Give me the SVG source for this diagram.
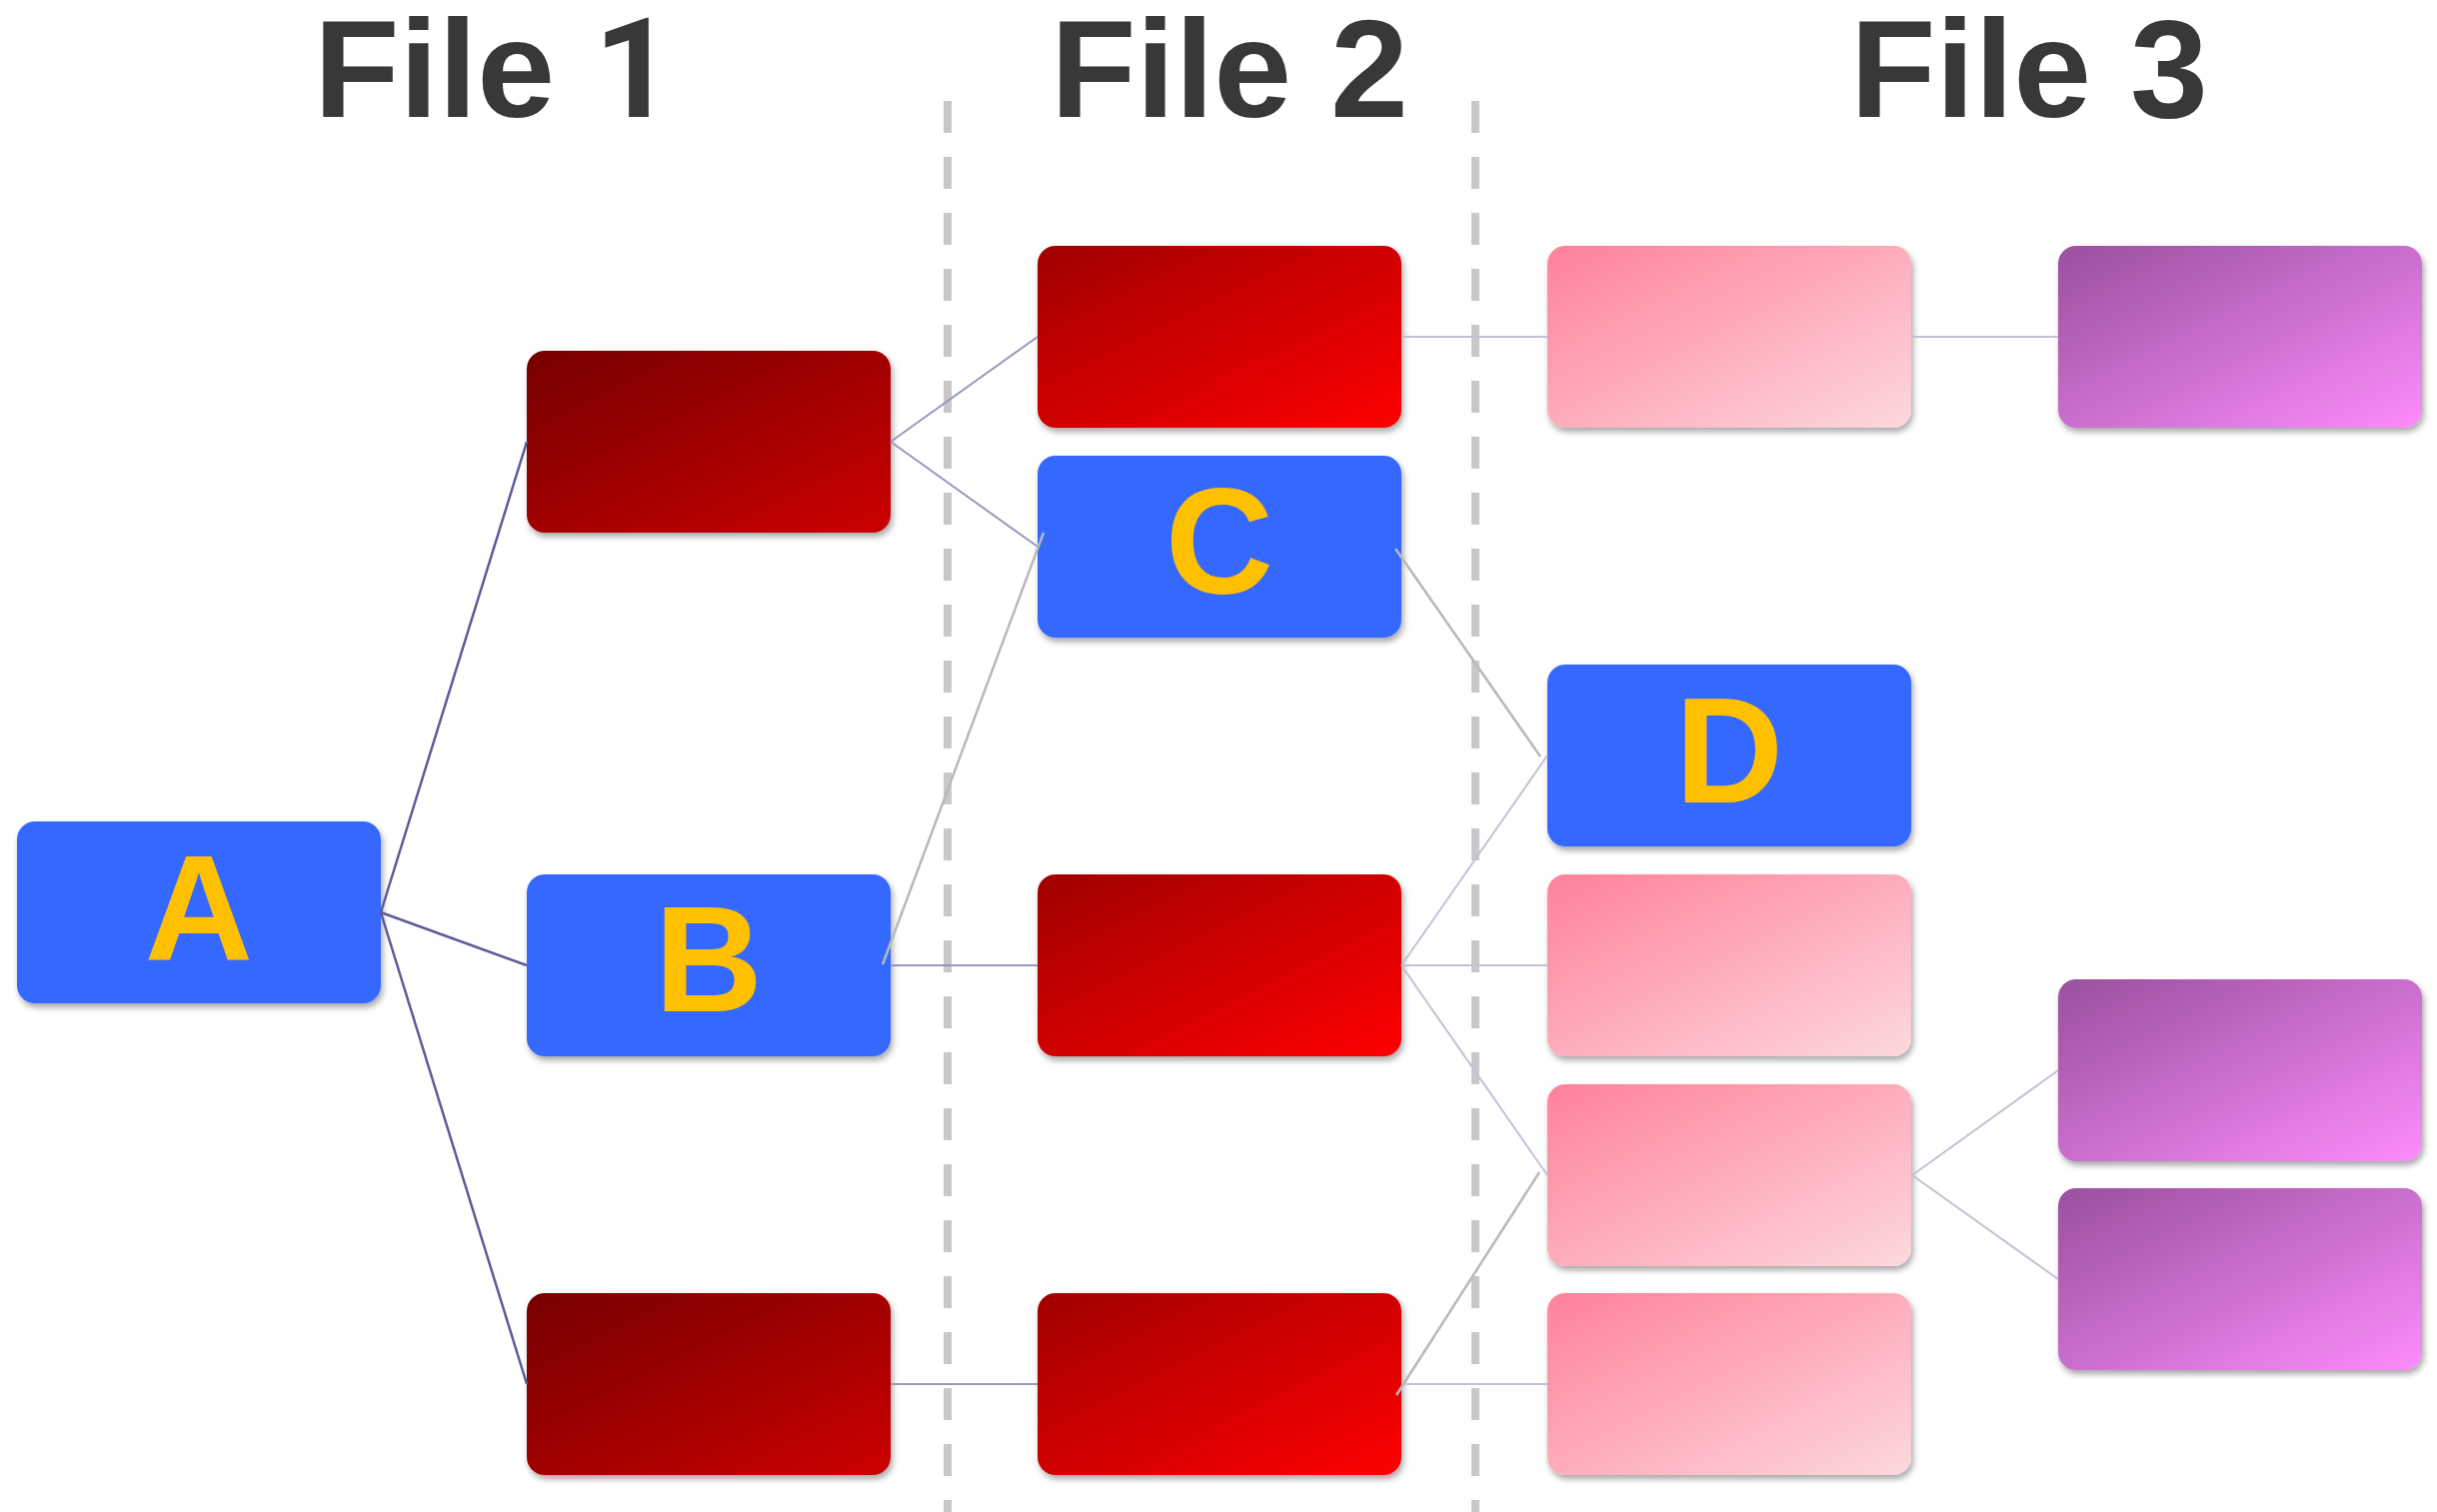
<svg xmlns="http://www.w3.org/2000/svg" width="2438" height="1513" viewBox="0 0 2438 1513">
  <style>
    .title { font-family: "Liberation Sans", Arial, Helvetica, sans-serif; font-weight: bold; font-size: 140px; fill: #383838; }
    .digit1 { font-family: Roboto, "Liberation Sans", Arial, sans-serif; font-weight: bold; }
    .letter { font-family: "Liberation Sans", Arial, Helvetica, sans-serif; font-weight: bold; font-size: 150px; fill: #ffc000; text-anchor: middle; }
    .box { filter: url(#shadow); }
    .blue { fill: #3567fe; }
    .dred { fill: url(#gDarkRed); }
    .red { fill: url(#gRed); }
    .pink { fill: url(#gPink); }
    .purple { fill: url(#gPurple); }
    .divider { stroke: #cac6ca; stroke-width: 8; stroke-dasharray: 32 24; fill: none; }
    .c-dark { stroke: #5c5c9a; stroke-width: 2.5; fill: none; }
    .c-mid { stroke: #9898bc; stroke-width: 2; fill: none; }
    .c-light { stroke: #c2c0d4; stroke-width: 2; fill: none; }
    .c-gray { stroke: #b8b8b8; stroke-width: 2.5; fill: none; }
  </style>
  <defs>
    <linearGradient id="gDarkRed" x1="0" y1="0" x2="1" y2="1">
      <stop offset="0" stop-color="#760000"/>
      <stop offset="1" stop-color="#cc0000"/>
    </linearGradient>
    <linearGradient id="gRed" x1="0" y1="0" x2="1" y2="1">
      <stop offset="0" stop-color="#a00000"/>
      <stop offset="1" stop-color="#ff0000"/>
    </linearGradient>
    <linearGradient id="gPink" x1="0" y1="0" x2="1" y2="1">
      <stop offset="0" stop-color="#ff8199"/>
      <stop offset="1" stop-color="#fdd8de"/>
    </linearGradient>
    <linearGradient id="gPurple" x1="0" y1="0" x2="1" y2="1">
      <stop offset="0" stop-color="#99509e"/>
      <stop offset="1" stop-color="#fc8cfc"/>
    </linearGradient>
    <filter id="shadow" x="-5%" y="-5%" width="115%" height="125%">
      <feDropShadow dx="2" dy="4" stdDeviation="3" flood-color="#000" flood-opacity="0.35"/>
    </filter>
  </defs>

  <rect x="0" y="0" width="2438" height="1513" fill="#ffffff"/>

  <g id="titles">
    <text class="title" x="314" y="117">File <tspan class="digit1">1</tspan></text>
    <text class="title" x="1051" y="117">File 2</text>
    <text class="title" x="1851" y="117">File 3</text>
  </g>

  <g id="dividers">
    <line class="divider" x1="948" y1="101" x2="948" y2="1513"/>
    <line class="divider" x1="1476" y1="101" x2="1476" y2="1513"/>
  </g>

  <g id="node-A"><rect class="box blue" x="17" y="822" width="364" height="182" rx="18"/><text class="letter" x="199" y="960">A</text></g>

  <g id="node-f1-top"><rect class="box dred" x="527" y="351" width="364" height="182" rx="18"/></g>
  <g id="node-B"><rect class="box blue" x="527" y="875" width="364" height="182" rx="18"/><text class="letter" x="709" y="1012">B</text></g>
  <g id="node-f1-bottom"><rect class="box dred" x="527" y="1294" width="364" height="182" rx="18"/></g>

  <g id="node-f2-top"><rect class="box red" x="1038" y="246" width="364" height="182" rx="18"/></g>
  <g id="node-C"><rect class="box blue" x="1038" y="456" width="364" height="182" rx="18"/><text class="letter" x="1220" y="594">C</text></g>
  <g id="node-f2-mid"><rect class="box red" x="1038" y="875" width="364" height="182" rx="18"/></g>
  <g id="node-f2-bottom"><rect class="box red" x="1038" y="1294" width="364" height="182" rx="18"/></g>

  <g id="node-f3-top"><rect class="box pink" x="1548" y="246" width="364" height="182" rx="18"/></g>
  <g id="node-D"><rect class="box blue" x="1548" y="665" width="364" height="182" rx="18"/><text class="letter" x="1730" y="803">D</text></g>
  <g id="node-f3-mid"><rect class="box pink" x="1548" y="875" width="364" height="182" rx="18"/></g>
  <g id="node-f3-lower"><rect class="box pink" x="1548" y="1085" width="364" height="182" rx="18"/></g>
  <g id="node-f3-bottom"><rect class="box pink" x="1548" y="1294" width="364" height="182" rx="18"/></g>

  <g id="node-f4-top"><rect class="box purple" x="2059" y="246" width="364" height="182" rx="18"/></g>
  <g id="node-f4-mid"><rect class="box purple" x="2059" y="980" width="364" height="182" rx="18"/></g>
  <g id="node-f4-bottom"><rect class="box purple" x="2059" y="1189" width="364" height="182" rx="18"/></g>

  <g id="connectors">
    <path class="c-dark" d="M381 913 L527 442"/>
    <path class="c-dark" d="M381 913 L527 966"/>
    <path class="c-dark" d="M381 913 L527 1385"/>

    <path class="c-mid" d="M891 442 L1038 337"/>
    <path class="c-mid" d="M891 442 L1038 547"/>
    <path class="c-mid" d="M891 966 L1038 966"/>
    <path class="c-mid" d="M891 1385 L1038 1385"/>

    <path class="c-light" d="M1402 337 L1548 337"/>
    <path class="c-light" d="M1402 966 L1548 756"/>
    <path class="c-light" d="M1402 966 L1548 966"/>
    <path class="c-light" d="M1402 966 L1548 1176"/>
    <path class="c-light" d="M1402 1385 L1548 1385"/>

    <path class="c-light" d="M1913 337 L2059 337"/>
    <path class="c-light" d="M1913 1176 L2059 1071"/>
    <path class="c-light" d="M1913 1176 L2059 1280"/>

    <path class="c-gray" d="M883 965 L1044 533"/>
    <path class="c-gray" d="M1396 549 L1541 757"/>
    <path class="c-gray" d="M1397 1396 L1540 1173"/>
  </g>
</svg>
